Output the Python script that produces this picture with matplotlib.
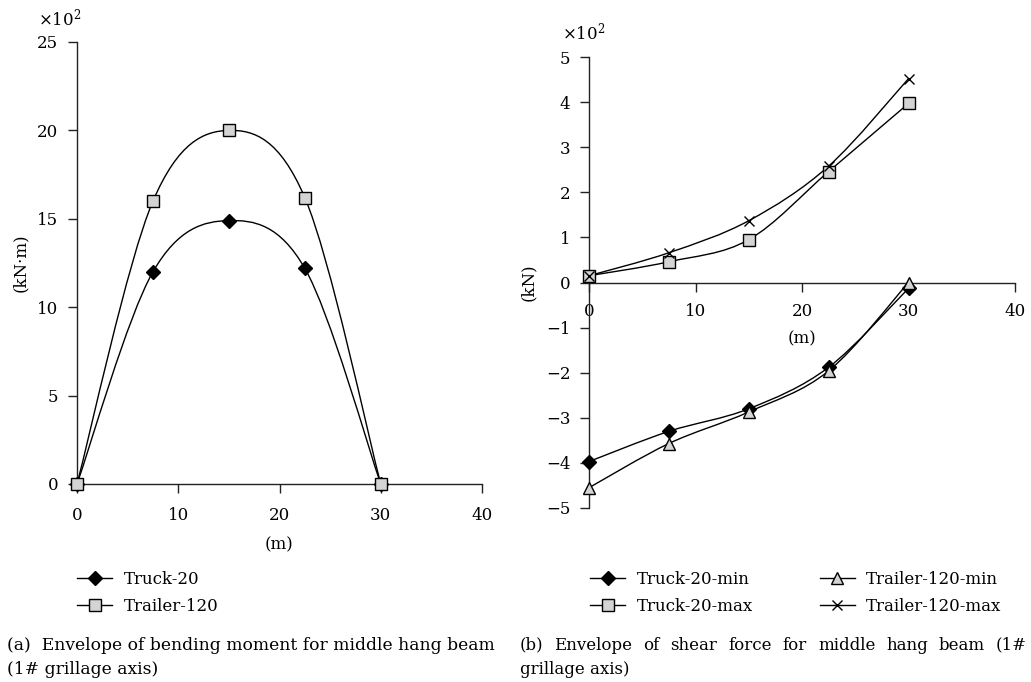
import numpy as np
import matplotlib.pyplot as plt
from matplotlib.path import Path
from matplotlib.patches import PathPatch

plt.rcParams['font.family'] = ['DejaVu Serif']
plt.rcParams['mathtext.fontset'] = 'dejavuserif'
plt.rcParams['font.size'] = 12

# span positions (m)
x_pos = [0, 7.5, 15, 22.5, 30]

# (a) bending moment, x10^2 kN.m
truck20_moment = [0, 12.0, 14.9, 12.2, 0]
trailer120_moment = [0, 16.0, 20.0, 16.2, 0]

# (b) shear force, x10^2 kN
truck20_min = [-3.97, -3.30, -2.80, -1.88, -0.13]
truck20_max = [0.15, 0.46, 0.95, 2.46, 3.97]
trailer120_min = [-4.55, -3.57, -2.87, -1.96, 0.0]
trailer120_max = [0.15, 0.66, 1.37, 2.58, 4.52]

gray = '#d4d4d4'
W, H = 1031, 682


def smooth_line(ax, xs, ys):
    # excel-like smoothed line: catmull-rom converted to cubic bezier
    xs = np.asarray(xs, float)
    ys = np.asarray(ys, float)
    n = len(xs)
    verts = [(xs[0], ys[0])]
    codes = [Path.MOVETO]
    for i in range(n - 1):
        i0 = max(i - 1, 0)
        i3 = min(i + 2, n - 1)
        c1 = (xs[i] + (xs[i + 1] - xs[i0]) / 6, ys[i] + (ys[i + 1] - ys[i0]) / 6)
        c2 = (xs[i + 1] - (xs[i3] - xs[i]) / 6, ys[i + 1] - (ys[i3] - ys[i]) / 6)
        verts += [c1, c2, (xs[i + 1], ys[i + 1])]
        codes += [Path.CURVE4] * 3
    ax.add_patch(PathPatch(Path(verts, codes), fc='none', ec='black', lw=1.0,
                           clip_on=False, zorder=2))


def series(ax, ys, marker, label, ms, fc):
    smooth_line(ax, x_pos, ys)
    ax.plot(x_pos, ys, ls='none', marker=marker, ms=ms, mfc=fc, mec='black',
            mew=1.0, clip_on=False, zorder=3)
    # proxy for legend (line + marker)
    ax.plot([], [], color='black', lw=1.0, marker=marker, ms=ms, mfc=fc,
            mec='black', mew=1.0, label=label)


def style_axes(ax, xpad):
    for s in ['top', 'right']:
        ax.spines[s].set_visible(False)
    for s in ['left', 'bottom']:
        ax.spines[s].set_linewidth(1.0)
        ax.spines[s].set_color('#222222')
    ax.tick_params(direction='out', length=6.5, width=1.0, color='#222222')
    ax.tick_params(axis='y', pad=7)
    ax.tick_params(axis='x', pad=xpad)


def justified(fig, x0, x1, y, text):
    # spread words so the line fills x0..x1 (pixels)
    words = text.split()
    r = fig.canvas.get_renderer()
    arts = [fig.text(0, 1 - y / H, w, ha='left', va='center') for w in words]
    widths = [a.get_window_extent(r).width for a in arts]
    gap = (x1 - x0 - sum(widths)) / (len(words) - 1)
    x = x0
    for a, w in zip(arts, widths):
        a.set_x(x / W)
        x += w + gap


fig = plt.figure(figsize=(10.31, 6.82), dpi=100)

# ---------------- (a) bending moment ----------------
ax1 = fig.add_axes([77 / W, 1 - 484 / H, 405 / W, 442 / H])
series(ax1, truck20_moment, 'D', 'Truck-20', 7, 'black')
series(ax1, trailer120_moment, 's', 'Trailer-120', 8, gray)
ax1.set_xlim(0, 40)
ax1.set_ylim(0, 25)
ax1.set_xticks([0, 10, 20, 30, 40])
ax1.set_yticks([0, 5, 10, 15, 20, 25])
style_axes(ax1, 10)
ax1.set_xlabel('(m)', labelpad=9)
ax1.set_ylabel('(kN·m)', labelpad=6)
fig.text(38 / W, 1 - 18 / H, r'×10$^{2}$', ha='left', va='center')
ax1.legend(loc='center left', bbox_to_anchor=(77 / W, 1 - 593 / H),
           bbox_transform=fig.transFigure, frameon=False, borderpad=0,
           borderaxespad=0, handlelength=2.1, handletextpad=0.7,
           labelspacing=0.6)

# ---------------- (b) shear force ----------------
ax2 = fig.add_axes([589 / W, 1 - 508 / H, 426 / W, 451 / H])
series(ax2, truck20_min, 'D', 'Truck-20-min', 7, 'black')
series(ax2, truck20_max, 's', 'Truck-20-max', 8, gray)
series(ax2, trailer120_min, '^', 'Trailer-120-min', 8, gray)
series(ax2, trailer120_max, 'x', 'Trailer-120-max', 7, 'none')
ax2.set_xlim(0, 40)
ax2.set_ylim(-5, 5)
ax2.set_xticks([0, 10, 20, 30, 40])
ax2.set_yticks(range(-5, 6))
style_axes(ax2, 8)
ax2.spines['bottom'].set_position(('data', 0))
ax2.set_xlabel('(m)', labelpad=8)
ax2.set_ylabel('(kN)', labelpad=6)
fig.text(562 / W, 1 - 32 / H, r'×10$^{2}$', ha='left', va='center')
ax2.legend(loc='center left', bbox_to_anchor=(590 / W, 1 - 593 / H),
           bbox_transform=fig.transFigure, frameon=False, borderpad=0,
           borderaxespad=0, ncol=2, handlelength=2.1, handletextpad=0.7,
           labelspacing=0.6, columnspacing=4.0)

# captions
fig.text(7 / W, 1 - 645 / H,
         '(a)  Envelope of bending moment for middle hang beam',
         ha='left', va='center', fontsize=12.3)
fig.text(7 / W, 1 - 670 / H, '(1# grillage axis)', ha='left', va='center',
         fontsize=12.3)
justified(fig, 520, 1027, 645,
          '(b) Envelope of shear force for middle hang beam (1#')
fig.text(520 / W, 1 - 670 / H, 'grillage axis)', ha='left', va='center')

fig.savefig('out.png', dpi=100)
